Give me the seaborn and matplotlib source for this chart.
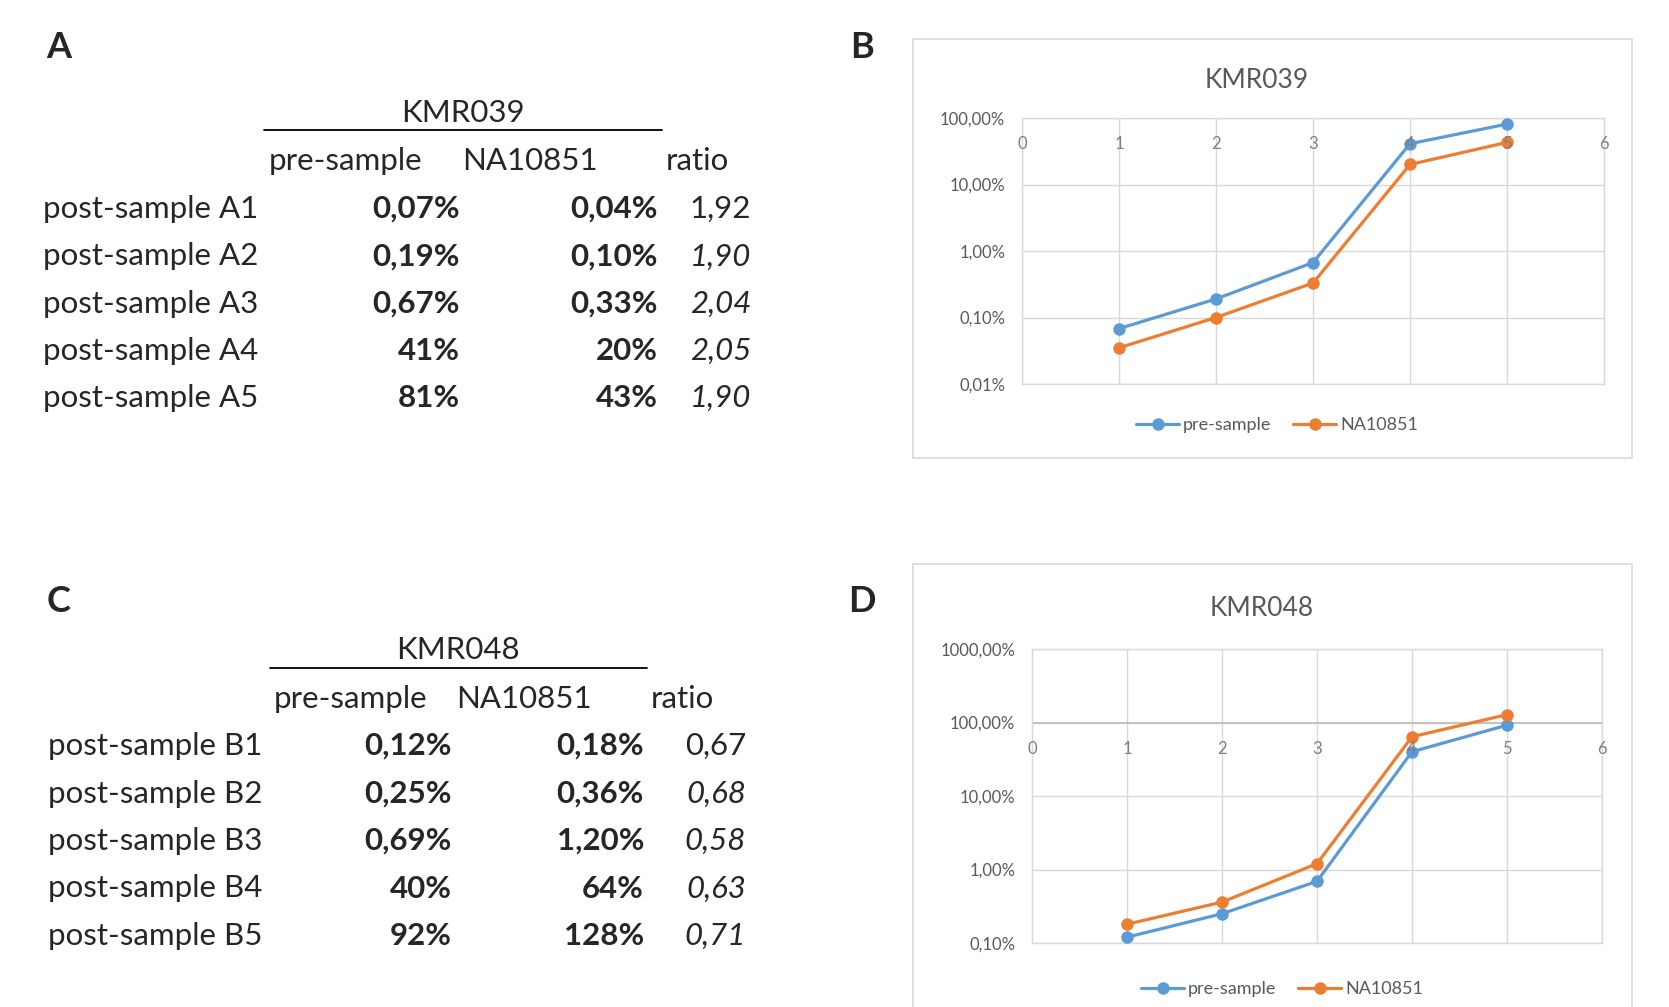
import numpy as np
import pandas as pd
import matplotlib
matplotlib.use("Agg")
import matplotlib.pyplot as plt
from matplotlib.lines import Line2D
from matplotlib.patches import Rectangle
from matplotlib.ticker import FuncFormatter, FixedLocator
import seaborn as sns

# -------------------------------
# Data
# -------------------------------
rows_a = ["post-sample A1", "post-sample A2", "post-sample A3", "post-sample A4", "post-sample A5"]
pre_a = [0.07, 0.19, 0.67, 41, 81]
na_a = [0.04, 0.10, 0.33, 20, 43]
ratio_a = [1.92, 1.90, 2.04, 2.05, 1.90]

rows_c = ["post-sample B1", "post-sample B2", "post-sample B3", "post-sample B4", "post-sample B5"]
pre_c = [0.12, 0.25, 0.69, 40, 92]
na_c = [0.18, 0.36, 1.20, 64, 128]
ratio_c = [0.67, 0.68, 0.58, 0.63, 0.71]

# values as plotted in the charts (percent)
x_pts = [1, 2, 3, 4, 5]
plot_pre_b = [0.068, 0.19, 0.67, 41, 81]
plot_na_b = [0.035, 0.10, 0.33, 20, 43]
plot_pre_d = [0.12, 0.25, 0.69, 40, 92]
plot_na_d = [0.18, 0.36, 1.20, 64, 128]

series_names = ["pre-sample", "NA10851"]
colors = {"pre-sample": "#5B9BD5", "NA10851": "#ED7D31"}

# -------------------------------
# Setup
# -------------------------------
sns.set_style("white")
plt.rcParams["font.family"] = ["Lato", "DejaVu Sans"]

W, H = 1669, 1007
fig = plt.figure(figsize=(W / 100, H / 100), dpi=100)


def fx(x):
    return x / W


def fy(y):
    return 1 - y / H


def pct(v):
    s = f"{v:.2f}%" if v < 10 else f"{v:.0f}%"
    return s.replace(".", ",")


TFS = 22.5


def draw_table(letter, lxy, title, hxy, line, col_y, col_x, labels, pre, na, ratio,
               row_y0, row_dy, lab_x, pre_x, na_x, ratio_x):
    fig.text(fx(lxy[0]), fy(lxy[1]), letter, fontsize=26, fontweight="bold", ha="center", va="center")
    fig.text(fx(hxy[0]), fy(hxy[1]), title, fontsize=TFS, ha="center", va="center")
    fig.add_artist(Line2D([fx(line[0]), fx(line[1])], [fy(line[2])] * 2, color="black", lw=1.3))
    for name, cx in zip(["pre-sample", "NA10851", "ratio"], col_x):
        fig.text(fx(cx), fy(col_y), name, fontsize=TFS, ha="center", va="center")
    for i, lab in enumerate(labels):
        y = fy(row_y0 + i * row_dy)
        fig.text(fx(lab_x), y, lab, fontsize=TFS, ha="left", va="center")
        fig.text(fx(pre_x), y, pct(pre[i]), fontsize=TFS, fontweight="bold", ha="right", va="center")
        fig.text(fx(na_x), y, pct(na[i]), fontsize=TFS, fontweight="bold", ha="right", va="center")
        fig.text(fx(ratio_x), y, f"{ratio[i]:.2f}".replace(".", ","), fontsize=TFS,
                 style="normal" if i == 0 else "italic", ha="right", va="center")


draw_table("A", (59, 48), "KMR039", (463, 113), (264, 662, 130), 161, (346, 530, 697),
           rows_a, pre_a, na_a, ratio_a, 209, 47.3, 43, 460, 658, 751)
draw_table("C", (59, 601), "KMR048", (458, 650), (270, 647, 668), 699, (351, 524, 682),
           rows_c, pre_c, na_c, ratio_c, 746, 47.5, 48, 452, 644, 746)


def draw_chart(letter, lxy, box, area, title, txy, ylim, pre, na, leg_xy):
    fig.text(fx(lxy[0]), fy(lxy[1]), letter, fontsize=26, fontweight="bold", ha="center", va="center")
    x0, y0, x1, y1 = box
    fig.add_artist(Rectangle((fx(x0), fy(y1)), fx(x1 - x0), (y1 - y0) / H, fill=False,
                             ec="#D9D9D9", lw=1.2, transform=fig.transFigure))
    fig.text(fx(txy[0]), fy(txy[1]), title, fontsize=19, color="#595959", ha="center", va="center")
    l, t, r, b = area
    ax = fig.add_axes([fx(l), fy(b), fx(r - l), (b - t) / H])
    df = pd.DataFrame({
        "x": x_pts * 2,
        "value": list(pre) + list(na),
        "series": [series_names[0]] * len(x_pts) + [series_names[1]] * len(x_pts),
    })
    sns.lineplot(data=df, x="x", y="value", hue="series", palette=colors, marker="o",
                 markersize=9, markeredgewidth=0, linewidth=2.3, ax=ax, zorder=3)
    ax.set_yscale("log")
    ax.set_ylim(*ylim)
    ax.set_xlim(0, 6)
    ax.set_xlabel("")
    ax.set_ylabel("")
    decades = [10.0 ** k for k in range(int(np.log10(ylim[0])), int(np.log10(ylim[1])) + 1)]
    ax.yaxis.set_major_locator(FixedLocator(decades))
    ax.yaxis.set_minor_locator(FixedLocator([]))
    ax.yaxis.set_major_formatter(FuncFormatter(lambda v, p: f"{v:.2f}%".replace(".", ",")))
    ax.set_xticks(range(7))
    ax.tick_params(axis="y", length=0, pad=12, labelsize=12, labelcolor="#595959")
    ax.tick_params(axis="x", length=0, labelbottom=False)
    ax.grid(True, color="#D9D9D9", lw=1)
    for s in ax.spines.values():
        s.set_color("#D9D9D9")
        s.set_linewidth(1)
    ax.axhline(100, color="#BFBFBF", lw=1.3, zorder=2)
    for xv in range(7):
        ax.annotate(str(xv), (xv, 100), xytext=(0, -13), textcoords="offset points",
                    ha="center", va="top", fontsize=12, color="#7F7F7F", zorder=4)
    sns.move_legend(ax, "center", bbox_to_anchor=(fx(leg_xy[0]), fy(leg_xy[1])),
                    bbox_transform=fig.transFigure, ncol=2, frameon=False, title=None,
                    fontsize=13, handlelength=2.4, columnspacing=1.2, handletextpad=0.2)
    for txt in ax.get_legend().get_texts():
        txt.set_color("#595959")
    return ax


draw_chart("B", (862, 48), (913, 39, 1632, 458), (1022, 118, 1604, 384), "KMR039", (1257, 80),
           (0.01, 100), plot_pre_b, plot_na_b, (1277, 425))
draw_chart("D", (862, 602), (913, 564, 1632, 1012), (1032, 649, 1602, 943), "KMR048", (1262, 609),
           (0.1, 1000), plot_pre_d, plot_na_d, (1282, 989))

fig.savefig("out.png", dpi=100)
